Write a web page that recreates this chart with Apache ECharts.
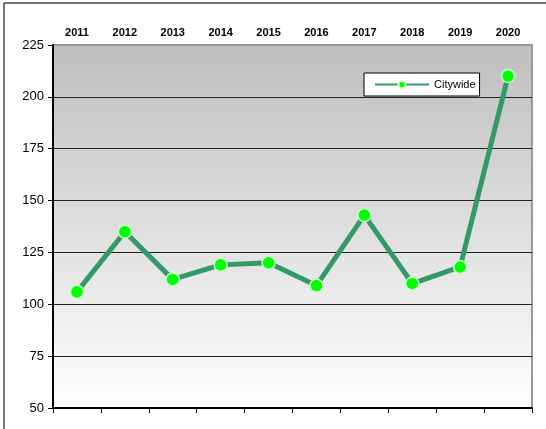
<!DOCTYPE html>
<html>
<head>
<meta charset="utf-8">
<script src="https://cdn.jsdelivr.net/npm/echarts@6/dist/echarts.min.js"></script>
<style>
  html, body { margin: 0; padding: 0; background: #fff; }
  #chart { width: 546px; height: 429px; }
</style>
</head>
<body>
<div id="chart"></div>
<script>
// data
const years = ['2011', '2012', '2013', '2014', '2015', '2016', '2017', '2018', '2019', '2020']
const citywide = [106, 135, 112, 119, 120, 109, 143, 110, 118, 210]
const gridValues = [75, 100, 125, 150, 175, 200]

const chart = echarts.init(document.getElementById('chart'))
const font = 'Liberation Sans, Arial, sans-serif'

const option = {
  animation: false,
  textStyle: { fontFamily: font },
  grid: {
    left: 53,
    top: 45,
    right: 14,
    bottom: 21,
    show: true,
    borderColor: '#999',
    borderWidth: 2,
    backgroundColor: {
      type: 'linear', x: 0, y: 0, x2: 0, y2: 1,
      colorStops: [
        { offset: 0, color: '#bebebe' },
        { offset: 1, color: '#ffffff' },
      ],
    },
  },
  legend: {
    data: ['Citywide'],
    left: 364,
    top: 73,
    itemWidth: 54,
    itemHeight: 9,
    itemGap: 4,
    padding: [6, 4, 6, 10],
    backgroundColor: '#fff',
    borderColor: '#000',
    borderWidth: 1,
    borderRadius: 0,
    textStyle: { fontFamily: font, fontSize: 11, color: '#000' },
  },
  xAxis: [
    {
      type: 'category',
      data: years,
      position: 'bottom',
      axisLine: { lineStyle: { color: '#000', width: 2 } },
      axisTick: { show: true, length: 5, lineStyle: { color: '#000' } },
      axisLabel: { show: false },
    },
    {
      type: 'category',
      data: years,
      position: 'top',
      axisLine: { show: false },
      axisTick: { show: false },
      axisLabel: { fontFamily: font, fontSize: 11, fontWeight: 'bold', color: '#000', margin: 7 },
    },
  ],
  yAxis: {
    type: 'value',
    min: 50,
    max: 225,
    interval: 25,
    axisLine: { show: true, lineStyle: { color: '#000', width: 2 } },
    axisTick: { show: true, length: 5, lineStyle: { color: '#000' } },
    axisLabel: { fontFamily: font, fontSize: 13, color: '#000', margin: 9 },
    splitLine: { show: false },
  },
  series: [
    {
      name: 'Citywide',
      type: 'line',
      data: citywide,
      symbol: 'circle',
      symbolSize: 13,
      lineStyle: { color: '#339966', width: 5 },
      itemStyle: { color: '#00ff00', borderColor: '#ccffcc', borderWidth: 1.5 },
      z: 5,
      markLine: {
        silent: true,
        symbol: 'none',
        label: { show: false },
        lineStyle: { color: '#222', width: 1, type: 'solid' },
        data: gridValues.map((v) => ({ yAxis: v })),
        z: 1,
      },
    },
  ],
  graphic: [
    // outer frame (only top and left sides are inside the picture)
    { type: 'line', shape: { x1: 4, y1: 3, x2: 546, y2: 3 }, style: { stroke: '#444', lineWidth: 1.5 } },
    { type: 'line', shape: { x1: 4, y1: 3, x2: 4, y2: 429 }, style: { stroke: '#444', lineWidth: 1.5 } },
  ],
}

chart.setOption(option)
</script>
</body>
</html>
